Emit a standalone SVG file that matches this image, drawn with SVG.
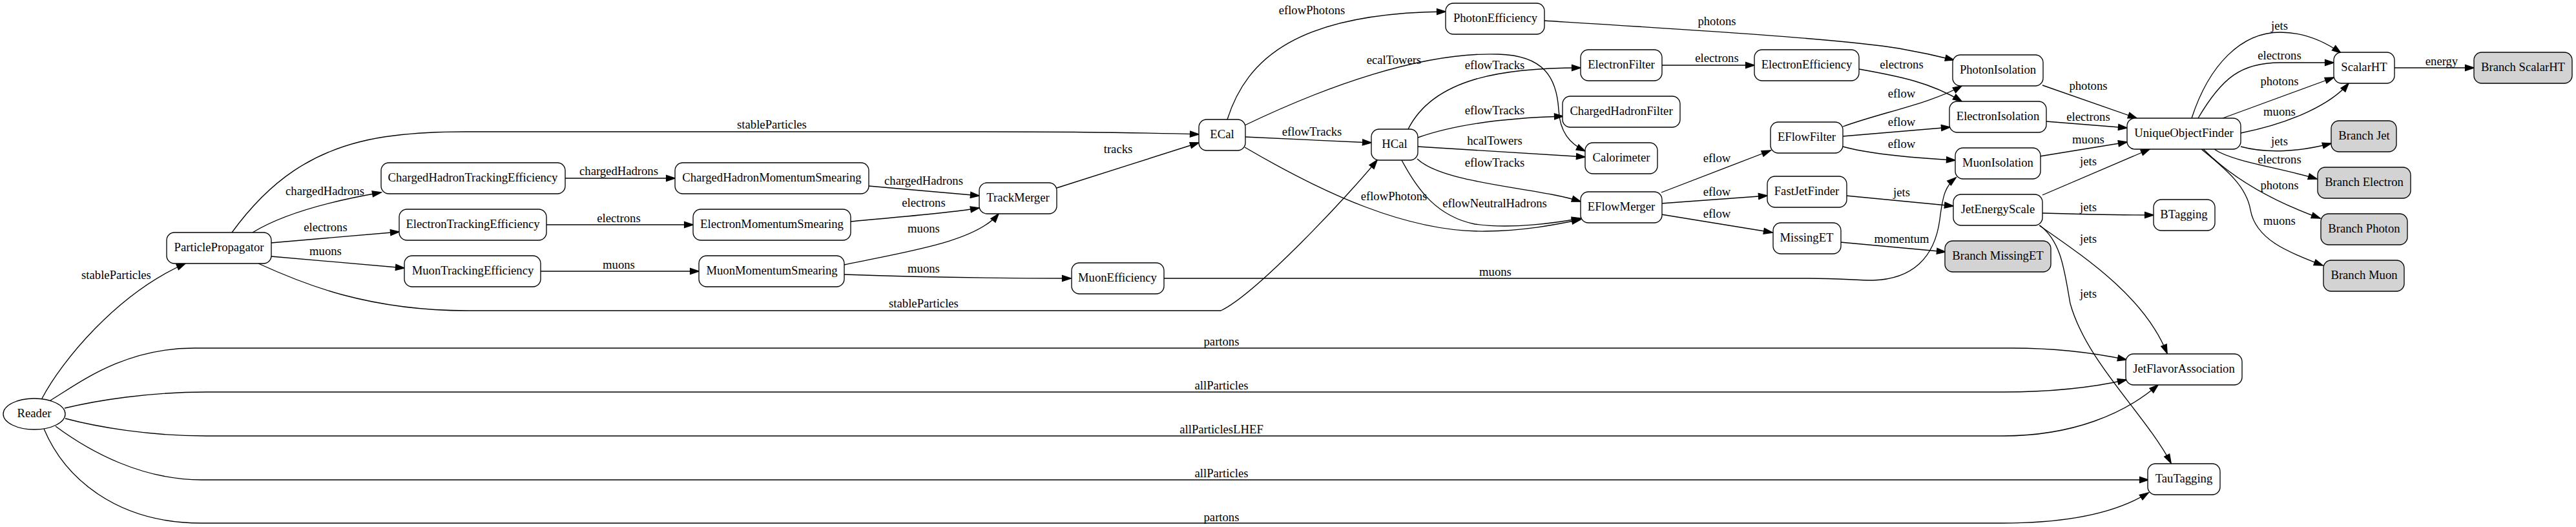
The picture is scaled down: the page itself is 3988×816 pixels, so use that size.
<svg xmlns="http://www.w3.org/2000/svg" width="3988" height="816" viewBox="0 0 3988 816">
<style>
text{font-family:"Liberation Serif","Times New Roman",serif;font-size:18.67px;text-anchor:middle;fill:#000}
.n rect,.n ellipse{fill:#fff;stroke:#000;stroke-width:1.33}
.b rect{fill:#d3d3d3}
#connectors path{fill:none;stroke:#000;stroke-width:1.33;marker-end:url(#arr)}
</style>
<defs>
<marker id="arr" markerUnits="userSpaceOnUse" markerWidth="14" markerHeight="10" viewBox="0 0 14 10" refX="13.5" refY="5" orient="auto" overflow="visible">
<path d="M0,0.4 L14,5 L0,9.6z" fill="#000" stroke="#000" stroke-width="1.2"/>
</marker>
</defs>
<rect width="3988" height="816" fill="#fff"/>
<g id="connectors">
<path d="M65,617 C95,560 180,455 287,408"/>
<path d="M78,620 C120,595 190,539 300,539 L3115,539 C3190,539 3245,547 3292,557"/>
<path d="M100,632 C150,620 230,607 320,607 L3100,607 C3180,607 3240,600 3292,588"/>
<path d="M101,648 C150,661 230,675 320,675 L3100,675 C3210,675 3290,640 3341,596"/>
<path d="M86,660 C140,700 220,743 312,743 L3326,743"/>
<path d="M68,664 C100,740 180,810 312,810 L3100,810 C3200,810 3275,795 3326,763"/>
<path d="M391,360 C440,330 520,310 590,298"/>
<path d="M359,360 C410,290 480,225 610,210 C650,205 690,204 720,204 L1500,204 C1700,204 1790,206 1856,208"/>
<path d="M420,376 L618,359"/>
<path d="M420,397 L626,415"/>
<path d="M400,408 C470,440 570,481 724,481 L1890,481 C1945,455 2090,300 2132,248"/>
<path d="M875,276 L1045,276"/>
<path d="M846,348 L1073,348"/>
<path d="M837,420 L1082,420"/>
<path d="M1345,288 L1516,303"/>
<path d="M1317,343 C1400,335 1470,330 1516,322"/>
<path d="M1307,410 C1400,390 1510,375 1546,331"/>
<path d="M1307,425 C1420,429 1550,431 1658,431"/>
<path d="M1636,291 L1856,221"/>
<path d="M1900,185 C1930,90 2010,20 2238,18"/>
<path d="M1927,194 C2050,135 2200,80 2320,84 C2390,86 2410,120 2413,170 C2415,205 2430,222 2454,234"/>
<path d="M1928,212 L2123,221"/>
<path d="M1927,228 C2050,300 2180,360 2300,358 C2370,357 2420,345 2447,340"/>
<path d="M2180,200 C2220,120 2330,105 2447,105"/>
<path d="M2195,213 C2260,190 2350,182 2420,180"/>
<path d="M2195,227 L2454,243"/>
<path d="M2194,246 C2235,285 2380,290 2447,312"/>
<path d="M2170,248 C2195,295 2225,335 2283,347 C2340,355 2410,345 2447,338"/>
<path d="M2391,32 C2600,45 2850,60 2940,75 C2980,82 3005,88 3025,93"/>
<path d="M2573,101 L2716,101"/>
<path d="M2878,107 C2940,118 2990,128 3037,157"/>
<path d="M2853,196 C2910,175 2990,160 3037,133"/>
<path d="M2853,211 C2920,205 2980,200 3019,197"/>
<path d="M2853,227 C2900,240 2970,245 3027,248"/>
<path d="M2572,298 L2741,233"/>
<path d="M2572,315 L2736,303"/>
<path d="M2572,332 L2744,360"/>
<path d="M2858,303 L3024,319"/>
<path d="M2849,375 L3012,390"/>
<path d="M1802,431 L2800,431 C2850,431 2870,434 2900,434 C2960,432 2995,400 3003,340 C3008,300 3012,288 3028,275"/>
<path d="M3162,132 L3308,183"/>
<path d="M3168,188 L3293,198"/>
<path d="M3158,242 L3293,220"/>
<path d="M3162,302 L3328,231"/>
<path d="M3162,330 C3230,332 3280,333 3334,333"/>
<path d="M3157,349 C3230,400 3320,460 3355,547"/>
<path d="M3158,349 C3192,375 3196,420 3205,470 C3230,560 3320,640 3361,717"/>
<path d="M3393,183 C3420,100 3470,50 3530,50 C3570,50 3600,65 3624,82"/>
<path d="M3403,183 C3440,120 3470,97 3530,97 L3613,97"/>
<path d="M3441,183 L3613,120"/>
<path d="M3469,206 C3550,190 3610,160 3636,129"/>
<path d="M3707,105 L3830,105"/>
<path d="M3469,227 C3510,238 3560,235 3609,222"/>
<path d="M3428,231 C3455,250 3530,260 3587,277"/>
<path d="M3411,231 C3445,265 3500,305 3592,338"/>
<path d="M3408,231 C3450,265 3478,290 3484,325 C3492,370 3540,390 3596,411"/>
<g id="edge-labels">
<text x="180" y="432">stableParticles</text>
<text x="503" y="302">chargedHadrons</text>
<text x="504" y="358">electrons</text>
<text x="504" y="395">muons</text>
<text x="1195" y="199">stableParticles</text>
<text x="1430" y="476">stableParticles</text>
<text x="958" y="271">chargedHadrons</text>
<text x="958" y="344">electrons</text>
<text x="958" y="416">muons</text>
<text x="1430" y="286">chargedHadrons</text>
<text x="1430" y="320">electrons</text>
<text x="1430" y="360">muons</text>
<text x="1430" y="422">muons</text>
<text x="1891" y="535">partons</text>
<text x="1891" y="603">allParticles</text>
<text x="1891" y="671">allParticlesLHEF</text>
<text x="1891" y="739">allParticles</text>
<text x="1891" y="807">partons</text>
<text x="1731" y="237">tracks</text>
<text x="2031" y="22">eflowPhotons</text>
<text x="2031" y="210">eflowTracks</text>
<text x="2158" y="99">ecalTowers</text>
<text x="2158" y="310">eflowPhotons</text>
<text x="2314" y="107">eflowTracks</text>
<text x="2314" y="177">eflowTracks</text>
<text x="2314" y="224">hcalTowers</text>
<text x="2314" y="258">eflowTracks</text>
<text x="2314" y="321">eflowNeutralHadrons</text>
<text x="2315" y="427">muons</text>
<text x="2658" y="39">photons</text>
<text x="2658" y="96">electrons</text>
<text x="2658" y="251">eflow</text>
<text x="2658" y="303">eflow</text>
<text x="2658" y="337">eflow</text>
<text x="2944" y="106">electrons</text>
<text x="2944" y="151">eflow</text>
<text x="2944" y="195">eflow</text>
<text x="2944" y="229">eflow</text>
<text x="2944" y="304">jets</text>
<text x="2944" y="376">momentum</text>
<text x="3233" y="139">photons</text>
<text x="3233" y="187">electrons</text>
<text x="3233" y="222">muons</text>
<text x="3233" y="256">jets</text>
<text x="3233" y="327">jets</text>
<text x="3233" y="376">jets</text>
<text x="3233" y="461">jets</text>
<text x="3529" y="46">jets</text>
<text x="3529" y="92">electrons</text>
<text x="3529" y="132">photons</text>
<text x="3529" y="179">muons</text>
<text x="3529" y="225">jets</text>
<text x="3529" y="253">electrons</text>
<text x="3529" y="293">photons</text>
<text x="3529" y="348">muons</text>
<text x="3780" y="101">energy</text>
</g>
</g>
<g id="Reader" class="n"><ellipse cx="53" cy="641" rx="48" ry="24"/><text x="53" y="646">Reader</text></g>
<g id="ParticlePropagator" class="n"><rect x="258" y="360" width="162" height="48" rx="12"/><text x="339" y="389">ParticlePropagator</text></g>
<g id="ChargedHadronTrackingEfficiency" class="n"><rect x="590" y="252" width="285" height="48" rx="12"/><text x="732" y="281">ChargedHadronTrackingEfficiency</text></g>
<g id="ElectronTrackingEfficiency" class="n"><rect x="618" y="324" width="228" height="48" rx="12"/><text x="732" y="353">ElectronTrackingEfficiency</text></g>
<g id="MuonTrackingEfficiency" class="n"><rect x="626" y="396" width="211" height="48" rx="12"/><text x="732" y="425">MuonTrackingEfficiency</text></g>
<g id="ChargedHadronMomentumSmearing" class="n"><rect x="1045" y="252" width="300" height="48" rx="12"/><text x="1195" y="281">ChargedHadronMomentumSmearing</text></g>
<g id="ElectronMomentumSmearing" class="n"><rect x="1073" y="324" width="244" height="48" rx="12"/><text x="1195" y="353">ElectronMomentumSmearing</text></g>
<g id="MuonMomentumSmearing" class="n"><rect x="1082" y="396" width="225" height="48" rx="12"/><text x="1195" y="425">MuonMomentumSmearing</text></g>
<g id="TrackMerger" class="n"><rect x="1516" y="283" width="120" height="48" rx="12"/><text x="1576" y="312">TrackMerger</text></g>
<g id="ECal" class="n"><rect x="1856" y="185" width="72" height="48" rx="12"/><text x="1892" y="214">ECal</text></g>
<g id="HCal" class="n"><rect x="2123" y="200" width="72" height="48" rx="12"/><text x="2159" y="229">HCal</text></g>
<g id="MuonEfficiency" class="n"><rect x="1659" y="407" width="143" height="48" rx="12"/><text x="1730" y="436">MuonEfficiency</text></g>
<g id="PhotonEfficiency" class="n"><rect x="2238" y="5" width="153" height="48" rx="12"/><text x="2315" y="34">PhotonEfficiency</text></g>
<g id="ElectronFilter" class="n"><rect x="2447" y="77" width="126" height="48" rx="12"/><text x="2510" y="106">ElectronFilter</text></g>
<g id="ChargedHadronFilter" class="n"><rect x="2419" y="149" width="182" height="48" rx="12"/><text x="2510" y="178">ChargedHadronFilter</text></g>
<g id="Calorimeter" class="n"><rect x="2454" y="221" width="112" height="48" rx="12"/><text x="2510" y="250">Calorimeter</text></g>
<g id="EFlowMerger" class="n"><rect x="2447" y="297" width="126" height="48" rx="12"/><text x="2510" y="326">EFlowMerger</text></g>
<g id="ElectronEfficiency" class="n"><rect x="2716" y="77" width="162" height="48" rx="12"/><text x="2797" y="106">ElectronEfficiency</text></g>
<g id="EFlowFilter" class="n"><rect x="2741" y="189" width="112" height="48" rx="12"/><text x="2797" y="218">EFlowFilter</text></g>
<g id="FastJetFinder" class="n"><rect x="2736" y="273" width="123" height="48" rx="12"/><text x="2797" y="302">FastJetFinder</text></g>
<g id="MissingET" class="n"><rect x="2745" y="345" width="105" height="48" rx="12"/><text x="2797" y="374">MissingET</text></g>
<g id="PhotonIsolation" class="n"><rect x="3023" y="85" width="140" height="48" rx="12"/><text x="3093" y="114">PhotonIsolation</text></g>
<g id="ElectronIsolation" class="n"><rect x="3018" y="157" width="150" height="48" rx="12"/><text x="3093" y="186">ElectronIsolation</text></g>
<g id="MuonIsolation" class="n"><rect x="3027" y="229" width="132" height="48" rx="12"/><text x="3093" y="258">MuonIsolation</text></g>
<g id="JetEnergyScale" class="n"><rect x="3024" y="301" width="138" height="48" rx="12"/><text x="3093" y="330">JetEnergyScale</text></g>
<g id="BranchMissingET" class="n b"><rect x="3011" y="373" width="164" height="48" rx="12"/><text x="3093" y="402">Branch MissingET</text></g>
<g id="UniqueObjectFinder" class="n"><rect x="3293" y="183" width="176" height="48" rx="12"/><text x="3381" y="212">UniqueObjectFinder</text></g>
<g id="BTagging" class="n"><rect x="3334" y="309" width="95" height="48" rx="12"/><text x="3381" y="338">BTagging</text></g>
<g id="JetFlavorAssociation" class="n"><rect x="3291" y="548" width="180" height="48" rx="12"/><text x="3381" y="577">JetFlavorAssociation</text></g>
<g id="TauTagging" class="n"><rect x="3325" y="718" width="112" height="48" rx="12"/><text x="3381" y="747">TauTagging</text></g>
<g id="ScalarHT" class="n"><rect x="3613" y="81" width="94" height="48" rx="12"/><text x="3660" y="110">ScalarHT</text></g>
<g id="BranchScalarHT" class="n b"><rect x="3830" y="81" width="152" height="48" rx="12"/><text x="3906" y="110">Branch ScalarHT</text></g>
<g id="BranchJet" class="n b"><rect x="3609" y="187" width="101" height="48" rx="12"/><text x="3660" y="216">Branch Jet</text></g>
<g id="BranchElectron" class="n b"><rect x="3588" y="259" width="144" height="48" rx="12"/><text x="3660" y="288">Branch Electron</text></g>
<g id="BranchPhoton" class="n b"><rect x="3593" y="331" width="134" height="48" rx="12"/><text x="3660" y="360">Branch Photon</text></g>
<g id="BranchMuon" class="n b"><rect x="3597" y="403" width="125" height="48" rx="12"/><text x="3660" y="432">Branch Muon</text></g>
</svg>
